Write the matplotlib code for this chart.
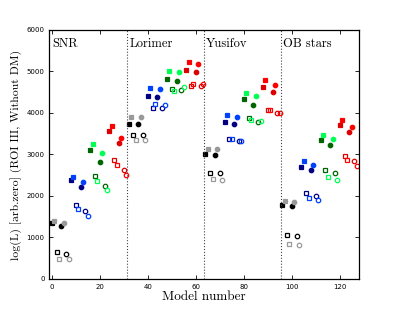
import numpy as np
import matplotlib
matplotlib.use("Agg")
from matplotlib import pyplot as plt

# log(L) values per catalogue, 32 models each
snr = [1342, 1405, 658, 475, 1285, 1357, 610, 482,
       2379, 2466, 1791, 1680, 2225, 2330, 1647, 1526,
       3101, 3246, 2482, 2362, 2820, 3029, 2249, 2152,
       3574, 3695, 2861, 2755, 3270, 3398, 2627, 2514]
lorimer = [3736, 3904, 3478, 3342, 3736, 3904, 3478, 3342,
           4403, 4603, 4121, 4210, 4394, 4586, 4121, 4201,
           4827, 5013, 4579, 4523, 4779, 4989, 4562, 4627,
           5037, 5230, 4644, 4707, 4996, 5189, 4659, 4707]
yusifov = [3005, 3133, 2555, 2403, 2988, 3125, 2547, 2393,
           3791, 3952, 3367, 3367, 3736, 3897, 3319, 3319,
           4331, 4490, 3888, 3824, 4193, 4410, 3791, 3800,
           4627, 4788, 4080, 4080, 4499, 4675, 4008, 4008]
ob_stars = [1791, 1872, 1060, 843, 1767, 1856, 1044, 827,
            2699, 2836, 2073, 1960, 2627, 2755, 2000, 1896,
            3357, 3478, 2634, 2466, 3237, 3367, 2547, 2386,
            3711, 3824, 2972, 2868, 3543, 3671, 2836, 2723]

catalogues = ["SNR", "Lorimer", "Yusifov", "OB stars"]
log_l = np.array(snr + lorimer + yusifov + ob_stars)
models = np.arange(len(log_l))

# colour pairs (dark, light) for each block of 8 models
colour_pairs = [("#000000", "#999999"),
                ("#000080", "#0040ff"),
                ("#006400", "#00ff55"),
                ("#dd0000", "#ff0000")]
# within a block: filled sq, filled sq, open sq, open sq, filled o, ...
markers = ["s", "s", "s", "s", "o", "o", "o", "o"]
filled = [True, True, False, False, True, True, False, False]

fig = plt.figure(figsize=(3.99, 3.12), dpi=100)
ax = fig.add_axes([0.124, 0.106, 0.776, 0.798])

for m, v in zip(models, log_l):
    block = (m % 32) // 8
    k = m % 8
    col = colour_pairs[block][k % 2]
    ax.plot(m, v, linestyle="none", marker=markers[k], markersize=3.2,
            markeredgewidth=0.9, markeredgecolor=col,
            markerfacecolor=col if filled[k] else "none")

for i, name in enumerate(catalogues):
    if i > 0:
        ax.axvline(32 * i - 0.5, color="#444444", linestyle=":", linewidth=0.8)
    ax.text(32 * i + 0.2, 5810, name, family="cmr10", fontsize=9,
            va="top", ha="left")

ax.set_xlim(-1, 128)
ax.set_ylim(0, 6000)
ax.set_xticks(np.arange(0, 121, 20))
ax.set_yticks(np.arange(0, 6001, 1000))
ax.tick_params(direction="in", top=True, right=True, labelsize=5,
               length=3, width=0.6)
ax.set_xlabel("Model number", family="cmr10", fontsize=9.5, labelpad=1)
ax.set_ylabel("log(L) [arb.zero] (ROI III, Without DM)", family="cmr10",
              fontsize=8.5, labelpad=3)
for sp in ax.spines.values():
    sp.set_linewidth(0.9)

fig.savefig("out.png", dpi=100)
